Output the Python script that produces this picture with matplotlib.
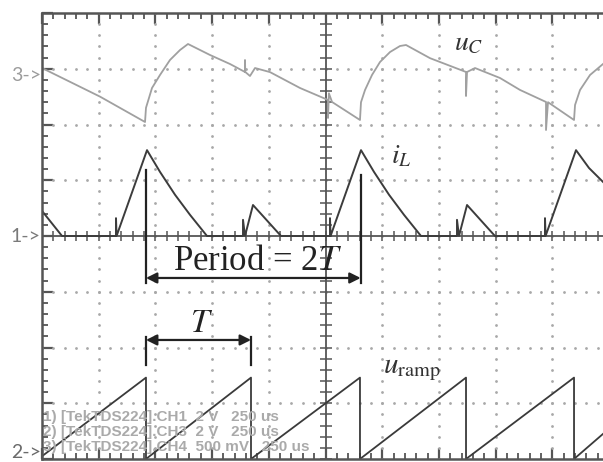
import numpy as np
import matplotlib
matplotlib.use("Agg")
import matplotlib.pyplot as plt

plt.rcParams["mathtext.fontset"] = "stix"

# scope screen in divisions (x: 250 us/div, y: graticule divisions from bottom)
XMAX = 9.894
YMAX = 8.0

# CH3: capacitor voltage u_C (light trace)
UC_T = [0.000, 1.023, 1.817, 1.834, 1.870, 1.940, 2.081, 2.257, 2.434, 2.575,
        2.963, 3.316, 3.580, 3.580, 3.585, 3.668, 3.757, 4.021, 4.550, 5.044,
        5.044, 5.060, 5.115, 5.608, 5.626, 5.697, 5.820, 5.961, 6.138, 6.314,
        6.420, 6.843, 7.478, 7.478, 7.496, 7.637, 8.078, 8.430, 8.889, 8.889,
        8.924, 9.383, 9.401, 9.489, 9.665, 9.894]
UC_V = [7.013, 6.500, 6.045, 6.300, 6.420, 6.655, 6.888, 7.157, 7.336, 7.444,
        7.247, 7.085, 6.942, 7.157, 6.942, 6.870, 7.013, 6.940, 6.655, 6.440,
        6.117, 6.560, 6.404, 6.081, 6.400, 6.619, 6.888, 7.121, 7.300, 7.408,
        7.426, 7.190, 6.942, 6.511, 6.942, 7.013, 6.834, 6.620, 6.404, 5.901,
        6.400, 6.081, 6.350, 6.619, 6.888, 7.085]

# CH1: inductor current i_L (zero level at 4 div)
IL_T = [0.000, 0.353, 1.305, 1.305, 1.315, 1.852, 2.081, 2.346, 2.610, 2.910,
        3.545, 3.545, 3.580, 3.721, 4.215, 5.079, 5.079, 5.089, 5.626, 5.855,
        6.120, 6.384, 6.684, 7.319, 7.319, 7.354, 7.496, 7.989, 8.871, 8.871,
        8.881, 9.418, 9.647, 9.894]
IL_V = [4.450, 4.000, 4.000, 4.320, 4.000, 5.540, 5.150, 4.740, 4.380, 4.000,
        4.000, 4.290, 4.000, 4.556, 4.000, 4.000, 4.320, 4.000, 5.540, 5.150,
        4.740, 4.380, 4.000, 4.000, 4.290, 4.000, 4.556, 4.000, 4.000, 4.320,
        4.000, 5.540, 5.220, 4.970]

# CH4: ramp u_ramp (zero level at 0 div)
RAMP_T = [0.000, 1.834, 1.834, 3.686, 3.686, 5.608, 5.608, 7.478, 7.478,
          9.383, 9.383, 9.894]
RAMP_V = [0.050, 1.460, 0.000, 1.460, 0.000, 1.460, 0.000, 1.460, 0.000,
          1.460, 0.000, 0.450]

# channel reference markers on the left edge
CH_LABELS = ["3->", "1->", "2->"]
CH_LEVELS = [7.0, 4.0, 0.0]
CH_COLORS = ["#9c9c9c", "#7a7a7a", "#6a6a6a"]

READOUT = ["1) [TekTDS224].CH1  2 V   250 us",
           "2) [TekTDS224].CH3  2 V   250 us",
           "3) [TekTDS224].CH4  500 mV   250 us"]
READOUT_Y = [0.753, 0.484, 0.215]

# period annotation: switching instants in divisions
T0, T1, T2 = 1.834, 3.686, 5.620

FRAME = "#555555"

fig = plt.figure(figsize=(6.03, 4.62), dpi=100)
ax = fig.add_axes([42 / 603, 3 / 462, 561 / 603, 446 / 462])
ax.set_xlim(0, XMAX)
ax.set_ylim(0, YMAX)

for side in ("left", "top", "bottom"):
    ax.spines[side].set_color(FRAME)
    ax.spines[side].set_linewidth(1.8)
ax.spines["right"].set_visible(False)
ax.set_xticks(np.arange(0, XMAX, 1.0))
ax.set_xticks(np.arange(0, XMAX, 0.2), minor=True)
ax.set_yticks(np.arange(0, YMAX + 0.01, 1.0))
ax.set_yticks(np.arange(0, YMAX + 0.01, 0.2), minor=True)
ax.tick_params(which="both", direction="in", top=True, bottom=True, left=True,
               right=False, labelbottom=False, labelleft=False, color=FRAME)
ax.tick_params(which="major", length=8, width=1.6)
ax.tick_params(which="minor", length=4.5, width=1.3)

# dotted graticule
steps_y = np.arange(0, YMAX + 0.01, 0.2)
steps_x = np.arange(0, XMAX, 0.2)
for gx in range(1, 10):
    if gx != 5:
        ax.plot([gx] * len(steps_y), steps_y, ls="", marker="o", ms=2.0,
                color="#a8a8a8", mew=0)
for gy in range(1, 8):
    if gy != 4:
        ax.plot(steps_x, [gy] * len(steps_x), ls="", marker="o", ms=2.0,
                color="#a8a8a8", mew=0)

# centre cross with its own tick marks
ax.axhline(4, color=FRAME, lw=1.3)
ax.axvline(5, color=FRAME, lw=1.3)
ax.plot(steps_x, [4] * len(steps_x), ls="", marker="|", ms=7, mew=1.1, color=FRAME)
ax.plot([5] * len(steps_y), steps_y, ls="", marker="_", ms=8, mew=1.1, color=FRAME)

# traces
ax.plot(UC_T, UC_V, color="#a0a0a0", lw=1.3, solid_joinstyle="round")
ax.plot(IL_T, IL_V, color="#3c3c3c", lw=1.4, solid_joinstyle="round")
ax.plot(RAMP_T, RAMP_V, color="#3a3a3a", lw=1.3, solid_joinstyle="round")

# channel markers
CH_OFFSETS = [-0.12, 0.0, 0.12]
for lab, lev, col, off in zip(CH_LABELS, CH_LEVELS, CH_COLORS, CH_OFFSETS):
    ax.text(-0.02, lev + off, lab, ha="right", va="center", color=col,
            fontsize=14, family="Lato", clip_on=False)

# scope readout
for line, yy in zip(READOUT, READOUT_Y):
    ax.text(0.02, yy, line, ha="left", va="center", color="#aaaaaa",
            fontsize=11, family="Liberation Sans", fontweight="bold")

# period annotation
ax.plot([T0, T0], [5.18, 3.16], color="#222222", lw=1.6)
ax.plot([T2, T2], [5.09, 3.16], color="#222222", lw=1.6)
ax.annotate("", xy=(T0, 3.247), xytext=(T2, 3.247),
            arrowprops=dict(arrowstyle="<|-|>", color="#222222", lw=1.6,
                            mutation_scale=16, shrinkA=0, shrinkB=0))
ax.text((T0 + T2) / 2 + 0.07, 3.55, r"Period = 2$T$", ha="center", va="center",
        fontsize=25, family="Liberation Serif", color="#222222")

ax.plot([T0, T0], [2.19, 1.69], color="#222222", lw=1.6)
ax.plot([T1, T1], [2.19, 1.69], color="#222222", lw=1.6)
ax.annotate("", xy=(T0, 2.135), xytext=(T1, 2.135),
            arrowprops=dict(arrowstyle="<|-|>", color="#222222", lw=1.6,
                            mutation_scale=16, shrinkA=0, shrinkB=0))
ax.text((T0 + T1) / 2 + 0.05, 2.44, r"$T$", ha="center", va="center",
        fontsize=24, color="#222222")

# trace names
ax.text(7.53, 7.48, r"$u_C$", ha="center", va="center", fontsize=20, color="#333333")
ax.text(6.33, 5.45, r"$i_L$", ha="center", va="center", fontsize=20, color="#333333")
ax.text(6.53, 1.62, r"$u_{\mathrm{ramp}}$", ha="center", va="center",
        fontsize=21, color="#333333")

fig.savefig("out.png", dpi=100)
